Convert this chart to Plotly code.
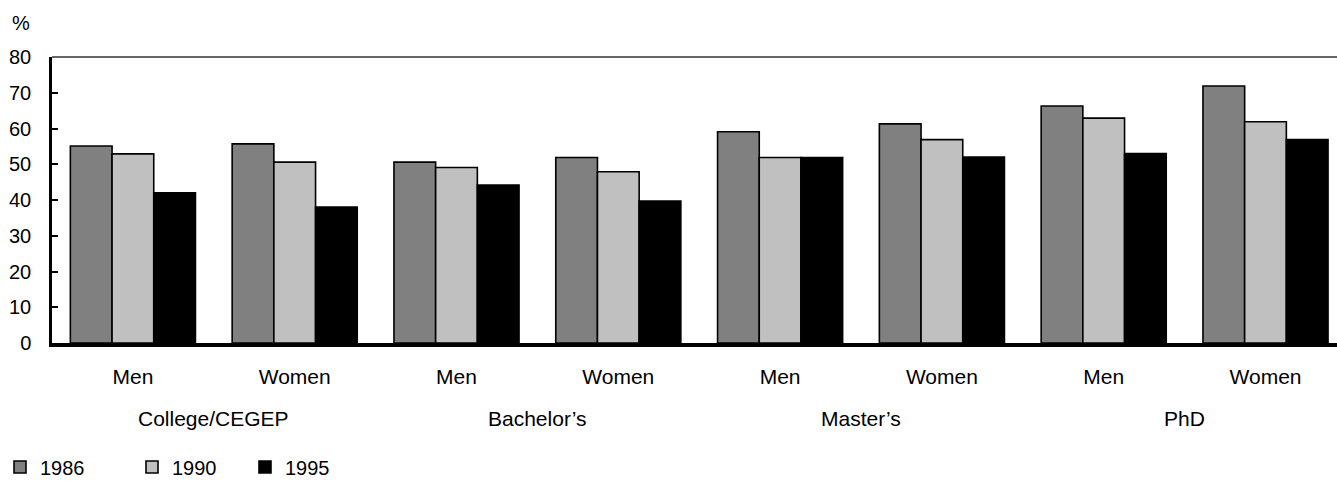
import plotly.graph_objects as go

# Share of graduates (%) by level of study, sex and survey year
levels = ["College/CEGEP", "Bachelor\u2019s", "Master\u2019s", "PhD"]
sexes = ["Men", "Women"]
years = ["1986", "1990", "1995"]

pct_1986 = [55.1, 55.7, 50.6, 51.9, 59.1, 61.3, 66.3, 71.9]
pct_1990 = [52.9, 50.6, 49.1, 47.9, 51.9, 56.9, 62.9, 61.9]
pct_1995 = [42.0, 38.0, 44.2, 39.7, 51.9, 52.0, 53.0, 56.9]

y_ticks = [0, 10, 20, 30, 40, 50, 60, 70, 80]

series = [pct_1986, pct_1990, pct_1995]
colors = ["#808080", "#c0c0c0", "#000000"]
legend_ids = ["legend", "legend2", "legend3"]
legend_px = [-14, 132, 245]  # left edge of each legend block, px from page left

W, H = 1337, 485
ML, MT, MB = 52, 57, 142
plot_w = W - ML
plot_h = H - MT - MB

FONT = "Liberation Sans, Arial, sans-serif"
FS = 20
FS_X = 21

cats = [f"{lv} \u2013 {sx}" for lv in levels for sx in sexes]
tick_text = [sx for lv in levels for sx in sexes]

fig = go.Figure()
for name, vals, col, lg in zip(years, series, colors, legend_ids):
    fig.add_trace(go.Bar(
        x=cats, y=vals, name=name, legend=lg,
        marker=dict(color=col, line=dict(color="#000000", width=1.6)),
    ))

# group labels beneath each pair of categories
for i, lv in enumerate(levels):
    fig.add_annotation(
        x=2 * i + 0.5, y=0, xref="x", yref="y", text=lv, showarrow=False,
        yshift=-75, yanchor="middle", font=dict(family=FONT, size=FS_X, color="#000"),
    )

# unit label above the value axis
fig.add_annotation(
    x=(21 - ML) / plot_w, y=1 + (MT - 23) / plot_h, xref="paper", yref="paper",
    text="%", showarrow=False, xanchor="center", yanchor="middle",
    font=dict(family=FONT, size=FS, color="#000"),
)

# thin frame line along the top of the plot area
fig.add_shape(type="line", xref="paper", yref="paper", x0=0, x1=1, y0=1, y1=1,
              line=dict(color="#333333", width=1.5))

span = plot_w / 161.8
legend_cfg = {}
for lg, px in zip(legend_ids, legend_px):
    legend_cfg[lg] = dict(
        orientation="h", xref="container", x=px / W, xanchor="left",
        yref="container", y=1 - 467 / H, yanchor="middle",
        font=dict(family=FONT, size=FS, color="#000"),
        bgcolor="rgba(0,0,0,0)", borderwidth=0,
    )

fig.update_layout(
    width=W, height=H,
    margin=dict(l=ML, r=0, t=MT, b=MB, pad=0),
    paper_bgcolor="white", plot_bgcolor="white",
    barmode="group", bargap=0.227, bargroupgap=0,
    font=dict(family=FONT, size=FS, color="#000"),
    showlegend=True,
    xaxis=dict(
        type="category", range=[-0.5, -0.5 + span],
        tickvals=cats, ticktext=tick_text, ticks="",
        showline=True, linecolor="#000", linewidth=4,
        showgrid=False, zeroline=False, ticklabelstandoff=12,
        tickfont=dict(family=FONT, size=FS_X, color="#000"),
    ),
    yaxis=dict(
        range=[0, 80], tickvals=y_ticks, ticks="inside", ticklen=6,
        tickcolor="#000", tickwidth=2,
        showline=True, linecolor="#000", linewidth=2.5,
        showgrid=False, zeroline=False, ticklabelstandoff=14,
        tickfont=dict(family=FONT, size=FS, color="#000"),
    ),
    **legend_cfg,
)

fig.write_html("out.html")
